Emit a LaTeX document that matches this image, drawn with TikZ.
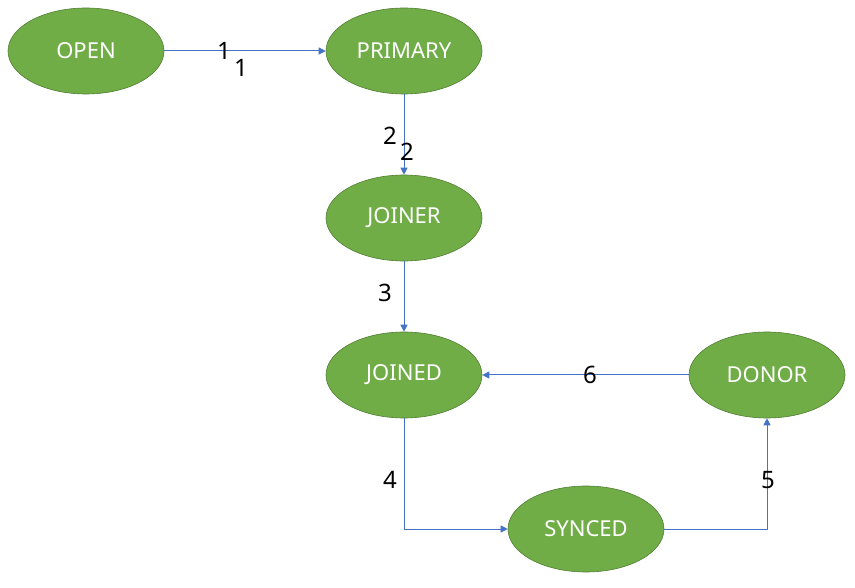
\documentclass[tikz,border=0pt]{standalone}
\usepackage{fontspec}
\setmainfont{Noto Sans}
\usetikzlibrary{shapes.geometric,arrows.meta}
\definecolor{nodefill}{HTML}{70AD47}
\definecolor{nodeline}{HTML}{507E32}
\definecolor{arrowc}{HTML}{4472C4}
\tikzset{
  state/.style={ellipse, draw=nodeline, fill=nodefill, line width=0.6pt,
    minimum width=156pt, minimum height=86pt, inner sep=0pt,
    text=white, font=\fontsize{22}{22}\selectfont},
  conn/.style={draw=arrowc, line width=1pt, -{Triangle[length=7pt,width=7pt]}},
  lbl/.style={font=\fontsize{24}{24}\selectfont, text=black, inner sep=0pt},
}
\begin{document}
\begin{tikzpicture}[x=1pt,y=-1pt]
\useasboundingbox (0,0) rectangle (855,588);
\node[state] (open) at (86,51) {OPEN};
\node[state] (primary) at (404,51) {PRIMARY};
\node[state] (joiner) at (404,218) {JOINER};
\node[state] (joined) at (404,375) {JOINED};
\node[state] (donor) at (767,375) {DONOR};
\node[state] (synced) at (586,529) {SYNCED};
\coordinate (c4) at (404,529);
\coordinate (c5) at (767,529);
\draw[conn] (open) -- (primary);
\draw[conn] (primary) -- (joiner);
\draw[conn] (joiner) -- (joined);
\draw[conn] (joined) -- (c4) -- (synced);
\draw[conn] (synced) -- (c5) -- (donor);
\draw[conn] (donor) -- (joined);
\node[lbl] (l1a) at (224,51) {1};
\node[lbl] (l1b) at (241,68) {1};
\node[lbl] (l2a) at (390,136) {2};
\node[lbl] (l2b) at (407,152) {2};
\node[lbl] (l3) at (385,293) {3};
\node[lbl] (l4) at (390,480) {4};
\node[lbl] (l5) at (768,480) {5};
\node[lbl] (l6) at (590,375) {6};
\end{tikzpicture}
\end{document}
